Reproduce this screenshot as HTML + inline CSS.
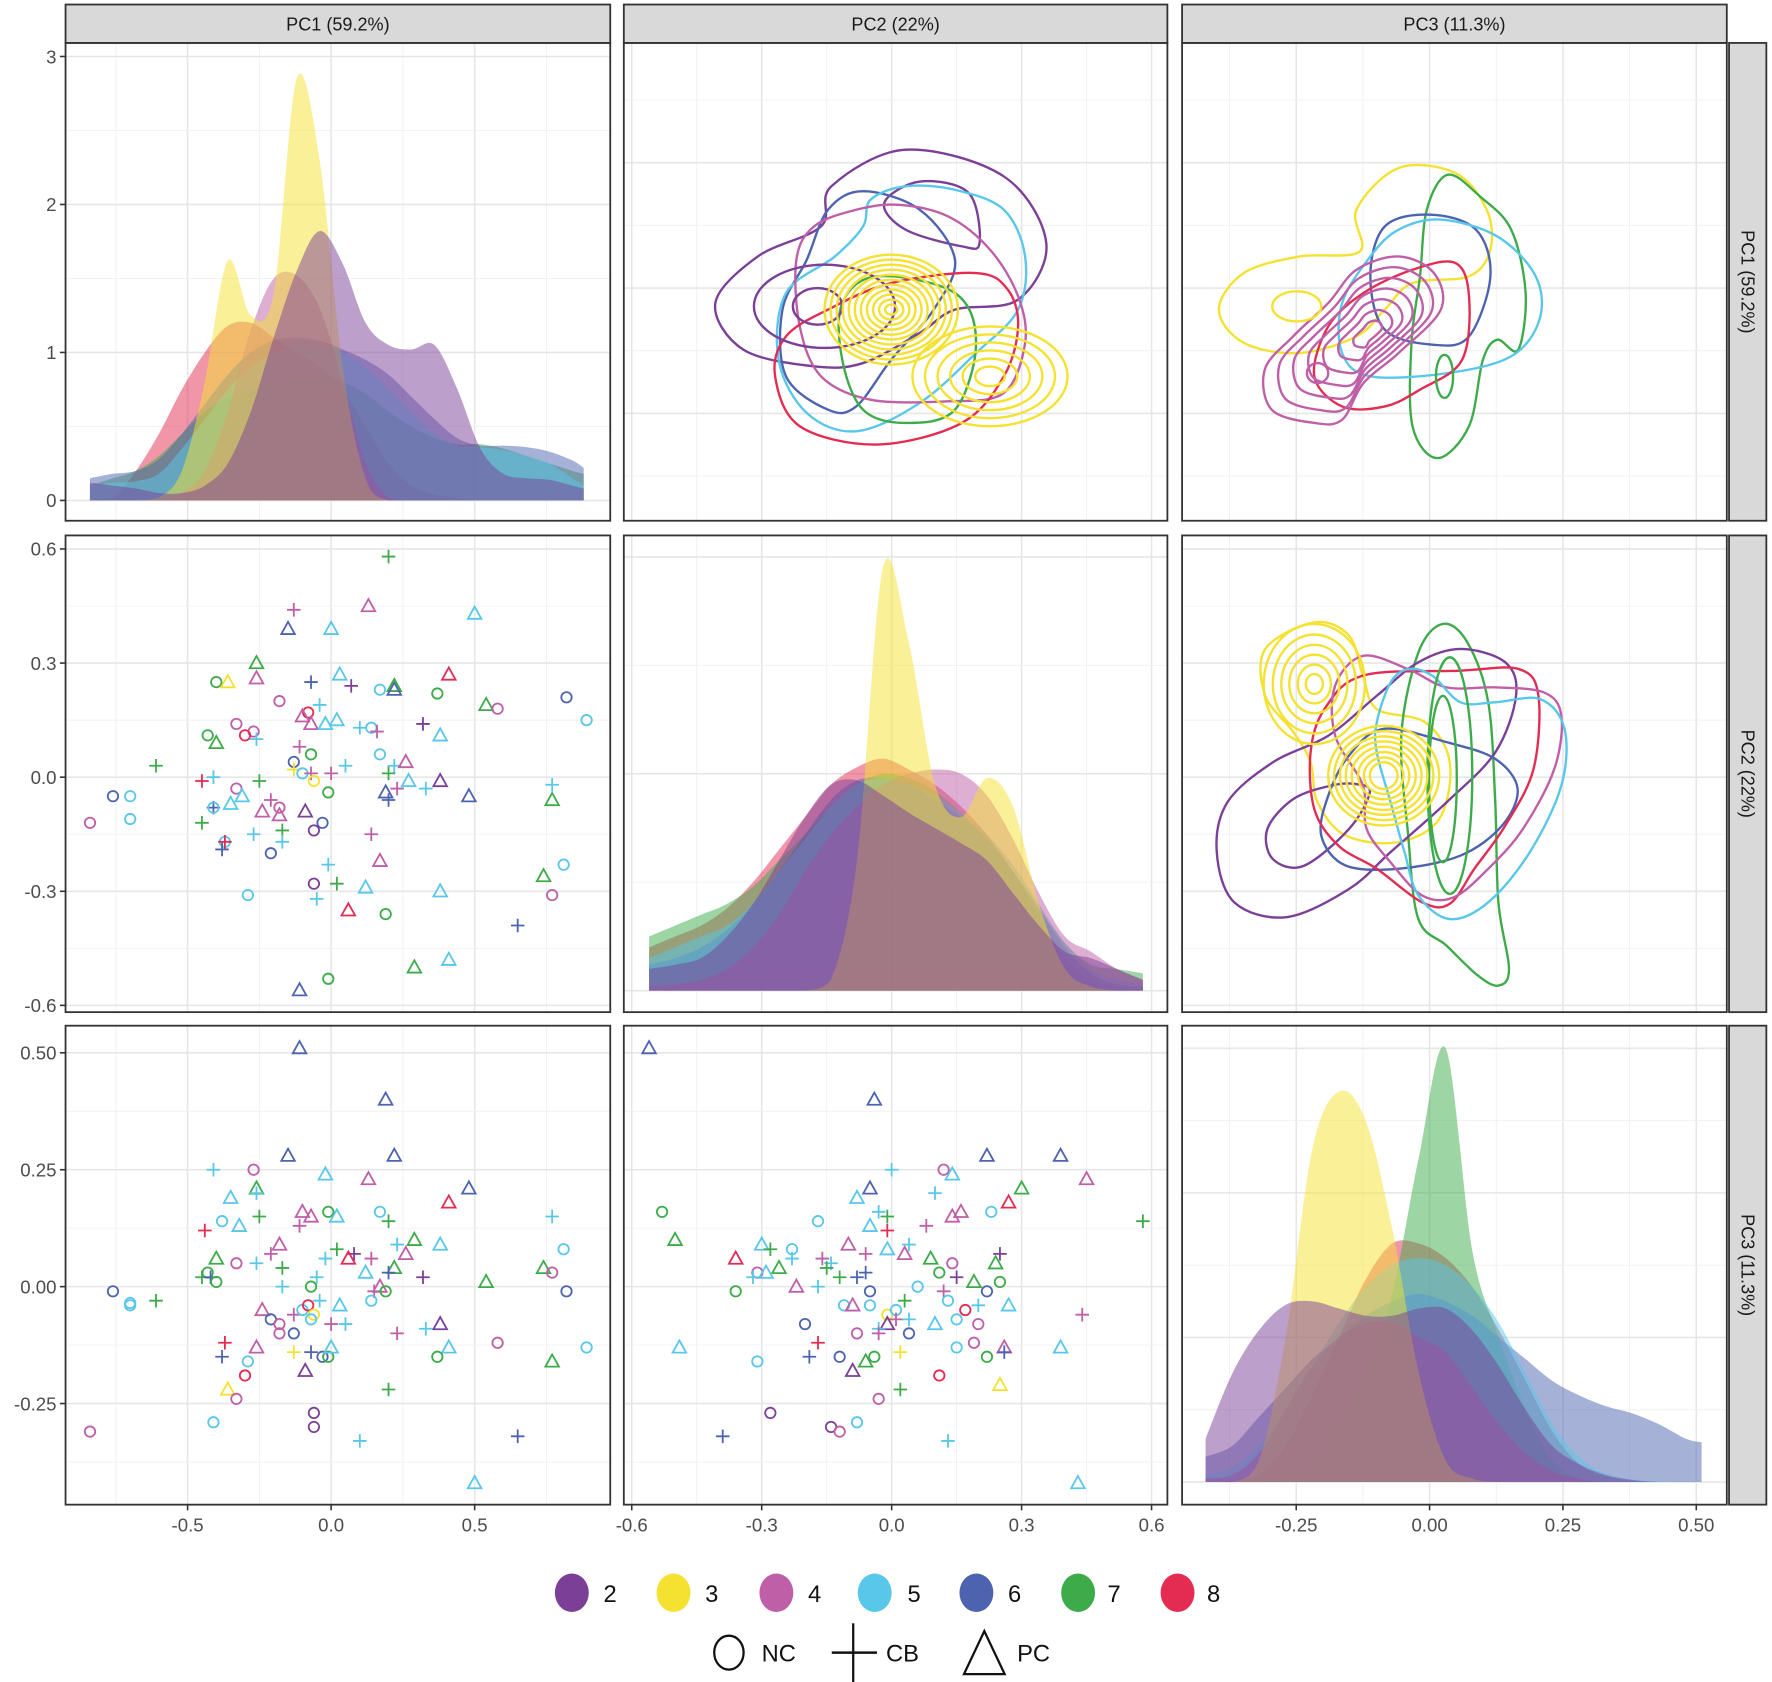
<!DOCTYPE html>
<html><head><meta charset="utf-8"><title>PCA pairs plot</title>
<style>
html,body{margin:0;padding:0;background:#fff;}
svg{display:block;font-family:"Liberation Sans",Arial,sans-serif;}
</style></head>
<body>
<svg id="chart" width="1772" height="1682" viewBox="0 0 1568 1489" preserveAspectRatio="none" xmlns="http://www.w3.org/2000/svg">
  <g id="panels"></g>
  <g id="legend">
    <g><ellipse cx="506" cy="1410" rx="15" ry="17" fill="#7b3f98"/><text x="534" y="1418" font-size="21" fill="#111">2</text></g>
    <g><ellipse cx="596" cy="1410" rx="15" ry="17" fill="#f5e12f"/><text x="624" y="1418" font-size="21" fill="#111">3</text></g>
    <g><ellipse cx="687" cy="1410" rx="15" ry="17" fill="#bf5fa7"/><text x="715" y="1418" font-size="21" fill="#111">4</text></g>
    <g><ellipse cx="774" cy="1410" rx="15" ry="17" fill="#58c7ea"/><text x="803" y="1418" font-size="21" fill="#111">5</text></g>
    <g><ellipse cx="864" cy="1410" rx="15" ry="17" fill="#4e63b0"/><text x="892" y="1418" font-size="21" fill="#111">6</text></g>
    <g><ellipse cx="954" cy="1410" rx="15" ry="17" fill="#3dab4a"/><text x="980" y="1418" font-size="21" fill="#111">7</text></g>
    <g><ellipse cx="1042" cy="1410" rx="15" ry="17" fill="#e42b52"/><text x="1068" y="1418" font-size="21" fill="#111">8</text></g>
    <g><ellipse cx="645" cy="1463" rx="13" ry="15" fill="none" stroke="#111" stroke-width="2"/><text x="674" y="1471" font-size="21" fill="#111">NC</text></g>
    <g><line x1="736" y1="1463" x2="776" y2="1463" stroke="#111" stroke-width="2.2"/><line x1="755" y1="1437" x2="755" y2="1489" stroke="#111" stroke-width="2"/><text x="784" y="1471" font-size="21" fill="#111">CB</text></g>
    <g><polygon points="871,1444 853,1482 889,1482" fill="none" stroke="#111" stroke-width="2"/><text x="900" y="1471" font-size="21" fill="#111">PC</text></g>
  </g>
</svg>
<script>
// ---------- data ----------
const groups = [2,3,4,5,6,7,8];
const groupColors = ['#7b3f98','#f5e12f','#bf5fa7','#58c7ea','#4e63b0','#3dab4a','#e42b52'];
const pcTitles = ['PC1 (59.2%)','PC2 (22%)','PC3 (11.3%)'];

// diagonal densities (values per group in order 2..8)
const pc1Grid = [-0.84,-0.76,-0.68,-0.60,-0.52,-0.44,-0.36,-0.28,-0.20,-0.12,-0.04,0.04,0.12,0.20,0.28,0.36,0.44,0.52,0.60,0.68,0.76,0.84,0.88];
const pc1Density = [
 [0.12,0.1,0.08,0.05,0.05,0.1,0.25,0.6,1.1,1.55,1.82,1.6,1.2,1.05,1.02,1.05,0.75,0.35,0.18,0.15,0.14,0.1,0.08],
 [0,0,0,0.02,0.2,0.8,1.62,1.25,1.4,2.85,2.3,0.9,0.15,0,0,0,0,0,0,0,0,0,0],
 [0,0,0,0.01,0.05,0.2,0.6,1.15,1.5,1.52,1.3,0.8,0.25,0.02,0,0,0,0,0,0,0,0,0],
 [0.1,0.12,0.13,0.18,0.35,0.55,0.75,0.9,1.0,1.05,1.05,1.0,0.9,0.75,0.6,0.45,0.37,0.36,0.34,0.3,0.25,0.15,0.1],
 [0.15,0.18,0.2,0.28,0.45,0.65,0.85,1.0,1.08,1.1,1.08,1.02,0.95,0.85,0.7,0.55,0.42,0.37,0.37,0.36,0.33,0.27,0.22],
 [0.1,0.15,0.2,0.3,0.45,0.6,0.7,0.75,0.8,0.85,0.85,0.8,0.72,0.6,0.5,0.42,0.38,0.38,0.35,0.3,0.25,0.2,0.18],
 [0,0.02,0.2,0.45,0.75,1.0,1.18,1.2,1.1,1.0,0.9,0.75,0.5,0.25,0.1,0.04,0.02,0,0,0,0,0,0]
];
const pc2Grid = [-0.56,-0.50,-0.44,-0.38,-0.32,-0.26,-0.20,-0.14,-0.08,-0.02,0.04,0.10,0.16,0.22,0.28,0.34,0.40,0.46,0.52,0.58];
const pc2Density = [
 [0.1,0.12,0.15,0.25,0.4,0.6,0.8,0.95,0.97,0.9,0.82,0.75,0.68,0.6,0.45,0.3,0.18,0.15,0.1,0.05],
 [0,0,0,0,0,0,0,0.05,0.6,1.95,1.6,0.95,0.8,0.98,0.85,0.4,0.1,0.02,0,0],
 [0.02,0.03,0.05,0.1,0.2,0.35,0.55,0.72,0.85,0.95,1.0,1.02,1.0,0.9,0.7,0.45,0.25,0.18,0.1,0.05],
 [0.15,0.2,0.25,0.3,0.4,0.55,0.7,0.85,0.95,0.98,0.95,0.9,0.82,0.72,0.58,0.4,0.22,0.1,0.05,0.03],
 [0.12,0.15,0.2,0.28,0.4,0.55,0.72,0.88,0.97,0.98,0.95,0.88,0.8,0.7,0.55,0.38,0.2,0.08,0.03,0.02],
 [0.25,0.3,0.35,0.4,0.48,0.6,0.72,0.85,0.95,1.0,0.98,0.92,0.82,0.7,0.55,0.38,0.22,0.12,0.1,0.08],
 [0.2,0.25,0.3,0.38,0.5,0.65,0.8,0.95,1.03,1.07,1.02,0.95,0.85,0.72,0.55,0.35,0.15,0.05,0.02,0]
];
const pc3Grid = [-0.42,-0.37,-0.32,-0.27,-0.22,-0.17,-0.12,-0.07,-0.02,0.03,0.08,0.13,0.18,0.23,0.28,0.33,0.38,0.43,0.48,0.51];
const pc3Density = [
 [0.6,1.5,2.1,2.45,2.5,2.4,2.3,2.3,2.4,2.4,2.1,1.6,1.0,0.5,0.25,0.1,0.03,0,0,0],
 [0,0,0.3,2.0,4.6,5.4,5.0,3.5,1.5,0.3,0.05,0,0,0,0,0,0,0,0,0],
 [0.05,0.1,0.4,1.0,1.6,2.0,2.2,2.2,2.0,1.8,1.3,0.8,0.4,0.15,0.05,0,0,0,0,0],
 [0.1,0.2,0.5,1.0,1.6,2.2,2.7,3.0,3.1,3.0,2.7,2.2,1.5,0.8,0.35,0.12,0.04,0.01,0,0],
 [0.35,0.5,0.9,1.3,1.7,2.0,2.3,2.5,2.6,2.5,2.3,2.0,1.7,1.4,1.2,1.05,0.95,0.8,0.6,0.55],
 [0,0,0,0.1,0.3,0.8,1.5,2.6,4.5,6.0,3.2,2.0,1.0,0.3,0.05,0,0,0,0,0],
 [0,0.02,0.1,0.5,1.2,2.0,2.8,3.3,3.3,3.1,2.7,2.1,1.4,0.7,0.25,0.08,0.02,0,0,0]
];

// scatter points [x, y, group, type]
const pc1VsPc2 = [
[0.20,0.58,7,'CB'],[-0.13,0.44,4,'CB'],[0.13,0.45,4,'PC'],[0.50,0.43,5,'PC'],[-0.15,0.39,6,'PC'],[0.00,0.39,5,'PC'],[-0.26,0.30,7,'PC'],[-0.40,0.25,7,'NC'],[-0.36,0.25,3,'PC'],[-0.26,0.26,4,'PC'],
[-0.07,0.25,6,'CB'],[0.03,0.27,5,'PC'],[0.07,0.24,2,'CB'],[0.17,0.23,5,'NC'],[0.22,0.24,7,'PC'],[0.22,0.23,6,'PC'],[0.41,0.27,8,'PC'],[0.37,0.22,7,'NC'],[0.54,0.19,7,'PC'],[0.58,0.18,4,'NC'],
[0.82,0.21,6,'NC'],[0.89,0.15,5,'NC'],[-0.18,0.20,4,'NC'],[-0.04,0.19,5,'CB'],[-0.08,0.17,8,'NC'],[-0.10,0.16,4,'PC'],[-0.07,0.14,4,'PC'],[-0.02,0.14,5,'PC'],[0.02,0.15,5,'PC'],[0.10,0.13,5,'CB'],
[0.14,0.13,5,'NC'],[0.16,0.12,4,'CB'],[0.32,0.14,2,'CB'],[0.38,0.11,5,'PC'],[-0.33,0.14,4,'NC'],[-0.27,0.12,4,'NC'],[-0.30,0.11,8,'NC'],[-0.26,0.10,5,'CB'],[-0.43,0.11,7,'NC'],[-0.40,0.09,7,'PC'],
[-0.11,0.08,4,'CB'],[-0.07,0.06,7,'NC'],[-0.61,0.03,7,'CB'],[-0.13,0.04,6,'NC'],[0.05,0.03,5,'CB'],[0.17,0.06,5,'NC'],[0.22,0.03,5,'CB'],[0.26,0.04,4,'PC'],[0.20,0.01,7,'CB'],[-0.13,0.02,3,'CB'],
[-0.10,0.01,5,'NC'],[-0.07,0.01,4,'CB'],[-0.06,-0.01,3,'NC'],[0.00,0.01,4,'CB'],[-0.45,-0.01,8,'CB'],[-0.41,0.00,5,'CB'],[-0.25,-0.01,7,'CB'],[0.27,-0.01,5,'PC'],[0.38,-0.01,2,'PC'],[0.77,-0.02,5,'CB'],
[-0.01,-0.04,7,'NC'],[0.19,-0.04,6,'PC'],[0.20,-0.06,6,'CB'],[0.23,-0.03,4,'CB'],[0.33,-0.03,5,'CB'],[0.48,-0.05,6,'PC'],[0.77,-0.06,7,'PC'],[-0.76,-0.05,6,'NC'],[-0.70,-0.05,5,'NC'],[-0.70,-0.11,5,'NC'],
[-0.84,-0.12,4,'NC'],[-0.33,-0.03,4,'NC'],[-0.31,-0.05,5,'PC'],[-0.35,-0.07,5,'PC'],[-0.41,-0.08,6,'CB'],[-0.41,-0.08,5,'NC'],[-0.21,-0.06,4,'CB'],[-0.18,-0.08,4,'NC'],[-0.24,-0.09,4,'PC'],[-0.18,-0.10,4,'PC'],
[-0.09,-0.09,2,'PC'],[-0.03,-0.12,6,'NC'],[-0.06,-0.14,2,'NC'],[-0.45,-0.12,7,'CB'],[-0.27,-0.15,5,'CB'],[-0.17,-0.14,7,'CB'],[-0.17,-0.17,5,'CB'],[-0.37,-0.17,5,'NC'],[-0.37,-0.17,8,'CB'],[-0.38,-0.19,6,'CB'],
[-0.21,-0.20,6,'NC'],[0.14,-0.15,4,'CB'],[0.17,-0.22,4,'PC'],[-0.01,-0.23,5,'CB'],[0.81,-0.23,5,'NC'],[0.74,-0.26,7,'PC'],[0.77,-0.31,4,'NC'],[-0.06,-0.28,2,'NC'],[0.02,-0.28,7,'CB'],[0.12,-0.29,5,'PC'],
[0.38,-0.30,5,'PC'],[-0.29,-0.31,5,'NC'],[-0.05,-0.32,5,'CB'],[0.06,-0.35,8,'PC'],[0.19,-0.36,7,'NC'],[0.65,-0.39,6,'CB'],[0.29,-0.50,7,'PC'],[0.41,-0.48,5,'PC'],[-0.01,-0.53,7,'NC'],[-0.11,-0.56,6,'PC']
];
const pc1VsPc3 = [
[-0.11,0.51,6,'PC'],[0.19,0.40,6,'PC'],[-0.15,0.28,6,'PC'],[0.22,0.28,6,'PC'],[-0.41,0.25,5,'CB'],[-0.27,0.25,4,'NC'],[-0.02,0.24,5,'PC'],[0.13,0.23,4,'PC'],[0.48,0.21,6,'PC'],[-0.26,0.21,7,'PC'],
[-0.26,0.20,5,'CB'],[-0.35,0.19,5,'PC'],[0.41,0.18,8,'PC'],[-0.01,0.16,7,'NC'],[-0.10,0.16,4,'PC'],[-0.07,0.15,4,'PC'],[0.02,0.15,5,'PC'],[-0.25,0.15,7,'CB'],[0.77,0.15,5,'CB'],[0.17,0.16,5,'NC'],
[0.20,0.14,7,'CB'],[-0.38,0.14,5,'NC'],[-0.32,0.13,5,'PC'],[-0.44,0.12,8,'CB'],[-0.11,0.13,4,'CB'],[0.29,0.10,7,'PC'],[0.38,0.09,5,'PC'],[0.81,0.08,5,'NC'],[-0.18,0.09,4,'PC'],[-0.21,0.07,4,'CB'],
[0.02,0.08,7,'CB'],[0.08,0.07,2,'CB'],[0.06,0.06,8,'PC'],[0.14,0.06,4,'CB'],[0.23,0.09,5,'CB'],[0.26,0.07,4,'PC'],[-0.40,0.06,7,'PC'],[-0.33,0.05,4,'NC'],[-0.26,0.05,5,'CB'],[-0.02,0.06,5,'CB'],
[-0.17,0.04,7,'CB'],[0.22,0.04,7,'PC'],[0.20,0.03,6,'CB'],[0.12,0.03,5,'PC'],[0.74,0.04,7,'PC'],[0.77,0.03,4,'NC'],[0.54,0.01,7,'PC'],[0.32,0.02,2,'CB'],[-0.43,0.03,7,'NC'],[-0.45,0.02,7,'CB'],
[-0.42,0.02,6,'CB'],[-0.40,0.01,7,'NC'],[-0.05,0.02,5,'CB'],[-0.17,0.00,5,'CB'],[-0.07,0.00,7,'NC'],[0.17,0.00,4,'PC'],[0.15,-0.01,4,'CB'],[0.19,-0.01,7,'NC'],[0.14,-0.03,5,'NC'],[0.82,-0.01,6,'NC'],
[-0.76,-0.01,6,'NC'],[-0.61,-0.03,7,'CB'],[-0.70,-0.04,5,'NC'],[-0.70,-0.035,5,'NC'],[-0.04,-0.03,5,'CB'],[0.03,-0.04,5,'PC'],[-0.24,-0.05,4,'PC'],[-0.13,-0.06,4,'CB'],[-0.10,-0.05,5,'NC'],[-0.08,-0.04,8,'NC'],
[-0.06,-0.06,3,'NC'],[-0.07,-0.07,5,'NC'],[0.00,-0.08,4,'CB'],[0.05,-0.08,5,'CB'],[-0.21,-0.07,6,'NC'],[-0.18,-0.08,4,'NC'],[-0.18,-0.10,4,'NC'],[-0.13,-0.10,6,'NC'],[0.38,-0.08,2,'PC'],[0.33,-0.09,5,'CB'],
[0.23,-0.10,4,'CB'],[-0.37,-0.12,8,'CB'],[-0.26,-0.13,4,'PC'],[-0.38,-0.15,6,'CB'],[-0.29,-0.16,5,'NC'],[-0.13,-0.14,3,'CB'],[-0.07,-0.14,6,'CB'],[-0.03,-0.15,6,'NC'],[-0.01,-0.15,7,'NC'],[0.00,-0.13,5,'PC'],
[0.41,-0.13,5,'PC'],[0.37,-0.15,7,'NC'],[0.58,-0.12,4,'NC'],[0.89,-0.13,5,'NC'],[0.77,-0.16,7,'PC'],[-0.30,-0.19,8,'NC'],[-0.09,-0.18,2,'PC'],[-0.36,-0.22,3,'PC'],[0.20,-0.22,7,'CB'],[-0.33,-0.24,4,'NC'],
[-0.06,-0.27,2,'NC'],[-0.06,-0.30,2,'NC'],[-0.41,-0.29,5,'NC'],[-0.84,-0.31,4,'NC'],[0.10,-0.33,5,'CB'],[0.65,-0.32,6,'CB'],[0.50,-0.42,5,'PC']
];
const pc2VsPc3 = [
[-0.56,0.51,6,'PC'],[-0.04,0.40,6,'PC'],[0.22,0.28,6,'PC'],[0.39,0.28,6,'PC'],[0.00,0.25,5,'CB'],[0.12,0.25,4,'NC'],[0.14,0.24,5,'PC'],[0.45,0.23,4,'PC'],[-0.05,0.21,6,'PC'],[0.10,0.20,5,'CB'],
[0.30,0.21,7,'PC'],[-0.08,0.19,5,'PC'],[0.27,0.18,8,'PC'],[-0.53,0.16,7,'NC'],[-0.03,0.16,5,'CB'],[-0.01,0.15,7,'CB'],[0.23,0.16,5,'NC'],[0.58,0.14,7,'CB'],[0.14,0.15,4,'PC'],[0.16,0.16,4,'PC'],
[-0.17,0.14,5,'NC'],[-0.05,0.13,5,'PC'],[-0.01,0.12,8,'CB'],[0.08,0.13,4,'CB'],[-0.50,0.10,7,'PC'],[-0.30,0.09,5,'PC'],[-0.28,0.08,7,'CB'],[-0.23,0.08,5,'NC'],[-0.10,0.09,4,'PC'],[-0.01,0.08,5,'PC'],
[0.04,0.09,5,'CB'],[-0.36,0.06,8,'PC'],[-0.23,0.06,5,'CB'],[-0.16,0.06,4,'CB'],[-0.06,0.07,4,'CB'],[0.03,0.07,4,'PC'],[0.09,0.06,7,'PC'],[0.14,0.05,4,'NC'],[0.25,0.07,2,'CB'],[0.24,0.05,7,'PC'],
[-0.26,0.04,7,'PC'],[-0.31,0.03,4,'NC'],[-0.32,0.02,5,'CB'],[-0.29,0.03,5,'PC'],[-0.14,0.05,5,'CB'],[-0.15,0.04,7,'CB'],[-0.12,0.02,7,'CB'],[-0.08,0.02,6,'CB'],[-0.06,0.03,6,'CB'],[0.11,0.03,7,'NC'],
[0.15,0.02,2,'CB'],[0.19,0.01,7,'PC'],[0.25,0.01,7,'NC'],[-0.36,-0.01,7,'NC'],[-0.22,0.00,4,'PC'],[-0.17,0.00,5,'CB'],[-0.05,-0.01,6,'NC'],[0.06,0.00,5,'NC'],[0.12,-0.01,4,'CB'],[0.22,-0.01,6,'NC'],
[0.03,-0.03,7,'CB'],[0.13,-0.03,5,'NC'],[0.20,-0.04,5,'CB'],[0.27,-0.04,5,'PC'],[-0.11,-0.04,5,'NC'],[-0.09,-0.04,4,'PC'],[-0.05,-0.04,5,'NC'],[0.17,-0.05,8,'NC'],[-0.01,-0.06,3,'NC'],[0.01,-0.05,5,'NC'],
[0.01,-0.07,4,'CB'],[0.04,-0.07,5,'CB'],[-0.01,-0.08,2,'PC'],[0.44,-0.06,4,'CB'],[-0.20,-0.08,6,'NC'],[0.10,-0.08,5,'PC'],[0.15,-0.07,5,'NC'],[0.20,-0.08,4,'NC'],[-0.03,-0.09,5,'CB'],[-0.08,-0.10,4,'NC'],
[0.04,-0.10,6,'NC'],[-0.03,-0.10,4,'CB'],[-0.49,-0.13,5,'PC'],[-0.17,-0.12,8,'CB'],[0.19,-0.12,4,'NC'],[0.15,-0.13,5,'NC'],[0.26,-0.13,4,'PC'],[0.26,-0.14,6,'CB'],[0.39,-0.13,5,'PC'],[-0.31,-0.16,5,'NC'],
[-0.19,-0.15,6,'CB'],[-0.12,-0.15,6,'NC'],[-0.06,-0.16,7,'PC'],[-0.04,-0.15,7,'NC'],[0.02,-0.14,3,'CB'],[0.22,-0.15,7,'NC'],[-0.09,-0.18,2,'PC'],[0.11,-0.19,8,'NC'],[0.25,-0.21,3,'PC'],[0.02,-0.22,7,'CB'],
[-0.03,-0.24,4,'NC'],[-0.28,-0.27,2,'NC'],[-0.14,-0.30,2,'NC'],[-0.12,-0.31,4,'NC'],[-0.08,-0.29,5,'NC'],[-0.39,-0.32,6,'CB'],[0.13,-0.33,5,'CB'],[0.43,-0.42,5,'PC']
];

// contour rings [group, [[x,y],...]] in data units
const contoursPc2Pc1 = [
 [2,[[0.032,0.552],[0.259,0.445],[0.357,0.180],[0.292,-0.046],[0.146,-0.086],[0.065,-0.179],[-0.066,-0.299],[-0.179,-0.312],[-0.342,-0.246],[-0.407,-0.060],[-0.309,0.126],[-0.163,0.246],[-0.139,0.406]]],
 [2,[[0.065,0.425],[0.178,0.379],[0.203,0.180],[0.162,0.166],[0.032,0.233],[-0.017,0.339]]],
 [6,[[-0.066,0.386],[0.065,0.312],[0.146,0.113],[0.097,-0.086],[-0.001,-0.286],[-0.082,-0.472],[-0.147,-0.485],[-0.244,-0.352],[-0.252,-0.086],[-0.196,0.113],[-0.147,0.312]]],
 [5,[[0.032,0.406],[0.146,0.392],[0.259,0.312],[0.308,0.126],[0.292,-0.086],[0.195,-0.259],[0.065,-0.458],[-0.082,-0.571],[-0.196,-0.498],[-0.261,-0.286],[-0.244,-0.020],[-0.131,0.126],[-0.066,0.246],[-0.049,0.352]]],
 [4,[[0.016,0.332],[0.130,0.286],[0.227,0.153],[0.292,-0.033],[0.308,-0.219],[0.259,-0.418],[0.130,-0.452],[-0.049,-0.445],[-0.163,-0.352],[-0.212,-0.153],[-0.220,0.113],[-0.179,0.246],[-0.082,0.312]]],
 [7,[[-0.033,0.047],[0.146,-0.020],[0.195,-0.219],[0.146,-0.485],[0.032,-0.538],[-0.066,-0.485],[-0.114,-0.286],[-0.114,-0.060]]],
 [8,[[0.195,0.060],[0.268,-0.006],[0.292,-0.153],[0.259,-0.352],[0.162,-0.538],[-0.033,-0.624],[-0.212,-0.551],[-0.269,-0.352],[-0.244,-0.193],[-0.147,-0.086],[-0.001,0.020]]]
];
// ellipse rings [group, cx, cy, rx, ry]
const ellipsesPc2Pc1 = [
 [2,-0.155,-0.073,0.163,0.166],[2,-0.171,-0.073,0.057,0.073],
 [3,-0.001,-0.086,0.154,0.219],[3,-0.001,-0.086,0.140,0.199],[3,-0.001,-0.086,0.126,0.179],[3,-0.001,-0.086,0.112,0.159],[3,-0.001,-0.086,0.098,0.139],[3,-0.001,-0.086,0.084,0.119],[3,-0.001,-0.086,0.070,0.100],[3,-0.001,-0.086,0.056,0.080],[3,-0.001,-0.086,0.042,0.060],[3,-0.001,-0.086,0.028,0.040],[3,-0.001,-0.086,0.014,0.020],
 [3,0.227,-0.352,0.179,0.199],[3,0.227,-0.352,0.150,0.167],[3,0.227,-0.352,0.121,0.135],[3,0.227,-0.352,0.092,0.103],[3,0.227,-0.352,0.063,0.071],[3,0.227,-0.352,0.034,0.039]
];
const contoursPc3Pc1 = [
 [3,[[-0.058,0.479],[0.048,0.459],[0.107,0.313],[0.114,0.153],[0.074,0.047],[-0.032,0.020],[-0.084,-0.086],[-0.137,-0.193],[-0.243,-0.259],[-0.348,-0.219],[-0.395,-0.086],[-0.348,0.060],[-0.243,0.126],[-0.131,0.146],[-0.137,0.313]]],
 [7,[[0.034,0.452],[0.094,0.366],[0.153,0.233],[0.180,-0.020],[0.166,-0.246],[0.127,-0.206],[0.100,-0.286],[0.074,-0.551],[0.015,-0.678],[-0.032,-0.551],[-0.034,-0.219],[-0.018,0.047],[-0.005,0.313]]],
 [6,[[0.001,0.293],[0.087,0.233],[0.114,0.047],[0.074,-0.193],[0.008,-0.226],[-0.084,-0.166],[-0.111,0.047],[-0.084,0.246]]],
 [5,[[0.021,0.273],[0.127,0.206],[0.199,0.047],[0.206,-0.126],[0.153,-0.272],[0.034,-0.339],[-0.111,-0.352],[-0.164,-0.259],[-0.164,-0.060],[-0.111,0.126],[-0.058,0.233]]],
 [8,[[0.048,0.100],[0.074,-0.033],[0.061,-0.286],[-0.018,-0.405],[-0.084,-0.472],[-0.164,-0.472],[-0.216,-0.352],[-0.190,-0.153],[-0.124,-0.020],[-0.032,0.073]]]
];
const magentaRingPc3Pc1 = [[-0.058,0.126],[0.008,0.060],[0.021,-0.086],[-0.058,-0.259],[-0.124,-0.379],[-0.164,-0.525],[-0.216,-0.538],[-0.296,-0.485],[-0.309,-0.325],[-0.256,-0.193],[-0.190,-0.060],[-0.137,0.073]];
const magentaRingCenterPc3Pc1 = [-0.111,-0.179];
const magentaRingScales = [1,0.86,0.72,0.58,0.44,0.3,0.16];
const ellipsesPc3Pc1 = [[3,-0.249,-0.073,0.046,0.060],[7,0.028,-0.352,0.016,0.086],[4,-0.210,-0.339,0.02,0.04]];

const contoursPc3Pc2 = [
 [3,[[-0.216,0.407],[-0.151,0.372],[-0.125,0.267],[-0.099,0.179],[-0.008,0.144],[0.038,0.039],[0.018,-0.110],[-0.060,-0.171],[-0.158,-0.153],[-0.210,-0.066],[-0.223,0.039],[-0.255,0.118],[-0.308,0.214],[-0.308,0.337]]],
 [7,[[0.025,0.403],[0.071,0.354],[0.110,0.197],[0.123,-0.066],[0.129,-0.329],[0.149,-0.504],[0.129,-0.548],[0.090,-0.521],[0.032,-0.443],[-0.021,-0.373],[-0.040,-0.154],[-0.053,0.109],[-0.021,0.328]]],
 [2,[[0.058,0.337],[0.142,0.302],[0.162,0.214],[0.123,0.065],[0.032,-0.066],[-0.073,-0.197],[-0.151,-0.294],[-0.268,-0.368],[-0.366,-0.329],[-0.399,-0.197],[-0.379,-0.066],[-0.294,0.039],[-0.190,0.109],[-0.099,0.214],[-0.021,0.302]]],
 [2,[[-0.138,-0.018],[-0.112,-0.040],[-0.151,-0.136],[-0.236,-0.233],[-0.294,-0.215],[-0.304,-0.136],[-0.255,-0.057],[-0.184,-0.022]]],
 [6,[[-0.086,0.127],[0.032,0.092],[0.123,0.048],[0.165,-0.031],[0.136,-0.127],[0.058,-0.206],[-0.060,-0.241],[-0.158,-0.232],[-0.203,-0.154],[-0.190,-0.049],[-0.151,0.057]]],
 [8,[[-0.125,0.267],[0.058,0.280],[0.168,0.284],[0.204,0.214],[0.195,0.022],[0.142,-0.127],[0.084,-0.241],[0.038,-0.333],[-0.014,-0.329],[-0.099,-0.241],[-0.171,-0.180],[-0.216,-0.084],[-0.223,0.065],[-0.197,0.179]]],
 [4,[[-0.125,0.319],[-0.040,0.284],[0.032,0.236],[0.123,0.236],[0.214,0.223],[0.247,0.162],[0.234,0.022],[0.175,-0.136],[0.110,-0.241],[0.045,-0.316],[-0.014,-0.311],[-0.073,-0.224],[-0.118,-0.136],[-0.125,-0.022],[-0.177,0.109],[-0.177,0.241]]],
 [5,[[-0.040,0.284],[0.005,0.267],[0.058,0.197],[0.123,0.197],[0.208,0.205],[0.253,0.127],[0.247,-0.022],[0.188,-0.197],[0.110,-0.329],[0.038,-0.373],[-0.021,-0.311],[-0.047,-0.197],[-0.073,-0.066],[-0.099,0.065],[-0.099,0.144],[-0.073,0.249]]]
];
const ellipsesPc3Pc2 = [
 [7,0.038,0.004,0.042,0.311],[7,0.025,-0.005,0.026,0.219],
 [3,-0.216,0.245,0.095,0.158],[3,-0.216,0.245,0.078,0.130],[3,-0.216,0.245,0.062,0.103],[3,-0.216,0.245,0.047,0.077],[3,-0.216,0.245,0.031,0.051],[3,-0.216,0.245,0.016,0.026],
 [3,-0.086,0.004,0.104,0.131],[3,-0.086,0.004,0.093,0.117],[3,-0.086,0.004,0.082,0.103],[3,-0.086,0.004,0.071,0.090],[3,-0.086,0.004,0.060,0.076],[3,-0.086,0.004,0.048,0.062],[3,-0.086,0.004,0.037,0.048],[3,-0.086,0.004,0.026,0.035]
];

// axis ticks
const pc1Ticks = [-0.5,0.0,0.5];
const pc1TickLabels = ['-0.5','0.0','0.5'];
const pc2Ticks = [-0.6,-0.3,0.0,0.3,0.6];
const pc2TickLabels = ['-0.6','-0.3','0.0','0.3','0.6'];
const pc3Ticks = [-0.25,0.0,0.25,0.5];
const pc3TickLabels = ['-0.25','0.00','0.25','0.50'];
const densTicks = [0,1,2,3];
const densTickLabels = ['0','1','2','3'];

// ---------- layout ----------
const NS = 'http://www.w3.org/2000/svg';
const colBox = [[58,540],[552,1033],[1046,1528]];
const rowBox = [[38,461],[474,896],[908,1332]];
const xScale = [v=>293+254*v, v=>789+383.3*v, v=>1265+472*v];
const yScale = [v=>255-222*v, v=>688-336.7*v, v=>1139-414*v];
const densY = [d=>443-131*d, d=>877-192*d, d=>1312-64*d];
const gridMajor = [[-0.5,0,0.5],[-0.6,-0.3,0,0.3,0.6],[-0.25,0,0.25,0.5]];
const gridMinor = [[-0.75,-0.25,0.25,0.75],[-0.45,-0.15,0.15,0.45],[-0.375,-0.125,0.125,0.375]];

function mk(tag, attrs, parent){
  const e = document.createElementNS(NS, tag);
  for (const k in attrs) e.setAttribute(k, attrs[k]);
  if (parent) parent.appendChild(e);
  return e;
}
function colorOf(g){ return groupColors[groups.indexOf(g)]; }

function catmull(pts, closed, maxY){
  const n = pts.length; let d = '';
  const P = i => closed ? pts[(i+n)%n] : pts[Math.max(0,Math.min(n-1,i))];
  const cy = y => (maxY!==undefined ? Math.min(y,maxY) : y);
  d += 'M'+pts[0][0].toFixed(1)+','+pts[0][1].toFixed(1);
  const last = closed ? n : n-1;
  for (let i=0;i<last;i++){
    const p0=P(i-1),p1=P(i),p2=P(i+1),p3=P(i+2);
    const c1=[p1[0]+(p2[0]-p0[0])/6,cy(p1[1]+(p2[1]-p0[1])/6)];
    const c2=[p2[0]-(p3[0]-p1[0])/6,cy(p2[1]-(p3[1]-p1[1])/6)];
    d += 'C'+c1[0].toFixed(1)+','+c1[1].toFixed(1)+' '+c2[0].toFixed(1)+','+c2[1].toFixed(1)+' '+p2[0].toFixed(1)+','+p2[1].toFixed(1);
  }
  if (closed) d += 'Z';
  return d;
}

const root = document.getElementById('panels');
const defs = mk('defs',{},root);

function panelFrame(r,c){
  const [x0,x1]=colBox[c],[y0,y1]=rowBox[r];
  const g = mk('g',{},root);
  
  
  mk('rect',{x:x0,y:y0,width:x1-x0,height:y1-y0,fill:'#fff'},g);
  const cp = mk('clipPath',{id:'clip'+r+c},defs);
  mk('rect',{x:x0,y:y0,width:x1-x0,height:y1-y0},cp);
  const grid = mk('g',{},g);
  
  
  gridMinor[c].forEach(v=>{const x=xScale[c](v); if(x>x0&&x<x1) mk('line',{x1:x,x2:x,y1:y0,y2:y1,stroke:'#f0f0f0','stroke-width':0.8},grid);});
  gridMajor[c].forEach(v=>{const x=xScale[c](v); if(x>x0&&x<x1) mk('line',{x1:x,x2:x,y1:y0,y2:y1,stroke:'#e6e6e6','stroke-width':1.4},grid);});
  if (r===c){
    const steps = r===0 ? [0,0.5,1,1.5,2,2.5,3] : (r===1 ? [0,0.5,1,1.5,2] : [0,1,2,3,4,5,6]);
    steps.forEach((v,i)=>{const y=densY[r](v); if(y>y0&&y<y1) mk('line',{x1:x0,x2:x1,y1:y,y2:y,stroke:i%2?'#f0f0f0':'#e6e6e6','stroke-width':i%2?0.8:1.4},grid);});
  } else {
    gridMinor[r].forEach(v=>{const y=yScale[r](v); if(y>y0&&y<y1) mk('line',{x1:x0,x2:x1,y1:y,y2:y,stroke:'#f0f0f0','stroke-width':0.8},grid);});
    gridMajor[r].forEach(v=>{const y=yScale[r](v); if(y>y0&&y<y1) mk('line',{x1:x0,x2:x1,y1:y,y2:y,stroke:'#e6e6e6','stroke-width':1.4},grid);});
  }
  const content = mk('g',{'clip-path':'url(#clip'+r+c+')'},g);
  
  
  return {g, content, x0,x1,y0,y1};
}
function panelBorder(p){
  const b = mk('rect',{x:p.x0,y:p.y0,width:p.x1-p.x0,height:p.y1-p.y0,fill:'none',stroke:'#333','stroke-width':1.6},p.g);
  
  
}

function drawDensity(p, c, grid, dens){
  const r = c;
  for (let i = dens.length-1; i >= 0; i--){
    const vals = dens[i];
    const pts = grid.map((v,j)=>[xScale[c](v), densY[r](vals[j])]);
    const base = densY[r](0);
    let d = catmull(pts,false,base);
    d += 'L'+pts[pts.length-1][0].toFixed(1)+','+base+'L'+pts[0][0].toFixed(1)+','+base+'Z';
    const path = mk('path',{d:d,fill:groupColors[i],'fill-opacity':0.5,stroke:'none'},p.content);
    
    
  }
}
function drawPoints(p, c, r, pts){
  pts.forEach(pt=>{
    const x = xScale[c](pt[0]), y = yScale[r](pt[1]), col = colorOf(pt[2]);
    let e;
    if (pt[3]==='NC') e = mk('circle',{cx:x,cy:y,r:4.6,fill:'none',stroke:col,'stroke-width':1.6},p.content);
    else if (pt[3]==='CB') e = mk('path',{d:'M'+(x-6)+','+y+'H'+(x+6)+'M'+x+','+(y-6)+'V'+(y+6),fill:'none',stroke:col,'stroke-width':1.6},p.content);
    else e = mk('polygon',{points:x+','+(y-6.2)+' '+(x-6)+','+(y+4.6)+' '+(x+6)+','+(y+4.6),fill:'none',stroke:col,'stroke-width':1.6},p.content);
    
    
  });
}
function drawRing(p,c,r,g,ring){
  const pts = ring.map(q=>[xScale[c](q[0]), yScale[r](q[1])]);
  const e = mk('path',{d:catmull(pts,true),fill:'none',stroke:colorOf(g),'stroke-width':2.1},p.content);
  
  
}
function drawEllipse(p,c,r,el){
  const sx = xScale[c](1)-xScale[c](0), sy = yScale[r](0)-yScale[r](1);
  const e = mk('ellipse',{cx:xScale[c](el[1]),cy:yScale[r](el[2]),rx:el[3]*sx,ry:el[4]*sy,fill:'none',stroke:colorOf(el[0]),'stroke-width':2.1},p.content);
  
  
}

// row 1
let p = panelFrame(0,0); drawDensity(p,0,pc1Grid,pc1Density); panelBorder(p);
p = panelFrame(0,1);
contoursPc2Pc1.forEach(cn=>drawRing(p,1,0,cn[0],cn[1]));
ellipsesPc2Pc1.forEach(el=>drawEllipse(p,1,0,el));
panelBorder(p);
p = panelFrame(0,2);
contoursPc3Pc1.forEach(cn=>drawRing(p,2,0,cn[0],cn[1]));
magentaRingScales.forEach(s=>{
  const ring = magentaRingPc3Pc1.map(q=>[magentaRingCenterPc3Pc1[0]+(q[0]-magentaRingCenterPc3Pc1[0])*s, magentaRingCenterPc3Pc1[1]+(q[1]-magentaRingCenterPc3Pc1[1])*s]);
  drawRing(p,2,0,4,ring);
});
ellipsesPc3Pc1.forEach(el=>drawEllipse(p,2,0,el));
panelBorder(p);
// row 2
p = panelFrame(1,0); drawPoints(p,0,1,pc1VsPc2); panelBorder(p);
p = panelFrame(1,1); drawDensity(p,1,pc2Grid,pc2Density); panelBorder(p);
p = panelFrame(1,2);
contoursPc3Pc2.forEach(cn=>drawRing(p,2,1,cn[0],cn[1]));
ellipsesPc3Pc2.forEach(el=>drawEllipse(p,2,1,el));
panelBorder(p);
// row 3
p = panelFrame(2,0); drawPoints(p,0,2,pc1VsPc3); panelBorder(p);
p = panelFrame(2,1); drawPoints(p,1,2,pc2VsPc3); panelBorder(p);
p = panelFrame(2,2); drawDensity(p,2,pc3Grid,pc3Density); panelBorder(p);

// strips
const strips = mk('g',{},root);


for (let c=0;c<3;c++){
  const [x0,x1]=colBox[c];
  mk('rect',{x:x0,y:4,width:x1-x0,height:34,fill:'#d9d9d9',stroke:'#333','stroke-width':1.6},strips);
  const t = mk('text',{x:(x0+x1)/2,y:27,'text-anchor':'middle','font-size':16,fill:'#1a1a1a'},strips);
  t.textContent = pcTitles[c];
  
  
}
for (let r=0;r<3;r++){
  const [y0,y1]=rowBox[r];
  mk('rect',{x:1530,y:y0,width:33,height:y1-y0,fill:'#d9d9d9',stroke:'#333','stroke-width':1.6},strips);
  const cy=(y0+y1)/2;
  const t = mk('text',{x:1541,y:cy,'text-anchor':'middle','font-size':16,fill:'#1a1a1a',transform:'rotate(90 1541 '+cy+')'},strips);
  t.textContent = pcTitles[r];
  
  
}

// axes
const axes = mk('g',{},root);


function yAxis(vals, labels, fn){
  vals.forEach((v,i)=>{
    const y = fn(v);
    mk('line',{x1:53,x2:58,y1:y,y2:y,stroke:'#333','stroke-width':1.4},axes);
    const t = mk('text',{x:50,y:y+6,'text-anchor':'end','font-size':16.5,fill:'#4d4d4d'},axes);
    t.textContent = labels[i];
    
    
  });
}
yAxis(densTicks, densTickLabels, densY[0]);
yAxis(pc2Ticks, pc2TickLabels, yScale[1]);
yAxis(pc3Ticks, pc3TickLabels, yScale[2]);
function xAxis(c, vals, labels){
  vals.forEach((v,i)=>{
    const x = xScale[c](v);
    mk('line',{x1:x,x2:x,y1:1332,y2:1337,stroke:'#333','stroke-width':1.4},axes);
    const t = mk('text',{x:x,y:1356,'text-anchor':'middle','font-size':16.5,fill:'#4d4d4d'},axes);
    t.textContent = labels[i];
    
    
  });
}
xAxis(0,pc1Ticks,pc1TickLabels);
xAxis(1,pc2Ticks,pc2TickLabels);
xAxis(2,pc3Ticks,pc3TickLabels);
</script>
</body></html>
